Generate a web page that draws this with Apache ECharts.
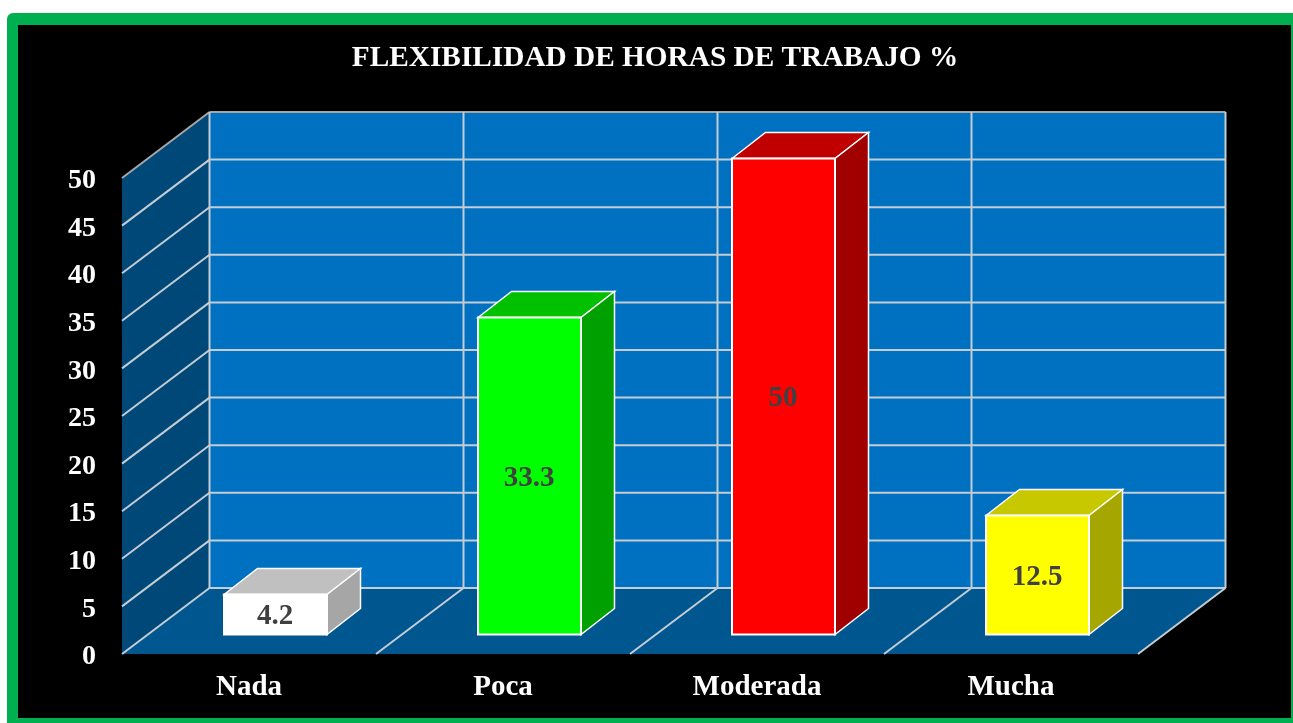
<!DOCTYPE html>
<html>
<head>
<meta charset="utf-8">
<style>html,body{margin:0;padding:0;background:#fff}#c{width:1293px;height:723px}</style>
<script src="https://cdn.jsdelivr.net/npm/echarts@6/dist/echarts.min.js"></script>
</head>
<body>
<div id="c"></div>
<script>
var titleText = 'FLEXIBILIDAD DE HORAS DE TRABAJO %';
var categories = ['Nada', 'Poca', 'Moderada', 'Mucha'];
var values = [4.2, 33.3, 50, 12.5];
var valueLabels = ['4.2', '33.3', '50', '12.5'];
var yTicks = [0, 5, 10, 15, 20, 25, 30, 35, 40, 45, 50];
var frontColors = ['#FFFFFF', '#00FF00', '#FF0000', '#FFFF00'];
var topColors = ['#C0C0C0', '#00C000', '#C00000', '#C8C800'];
var sideColors = ['#A6A6A6', '#00A000', '#A00000', '#A6A600'];

var SERIF = '"Liberation Serif","Times New Roman",serif';
var WALL_DX = 87.5, WALL_DY = -66;
var BAR_DX = 33.5, BAR_DY = -26;
var BAR_OFF_X = 26.5, BAR_OFF_Y = -19.5;
var BAR_W = 103;
var LINE = '#C4CCD4';

function poly(pts, fill, stroke, lw) {
  return {
    type: 'polygon',
    shape: { points: pts },
    style: { fill: fill, stroke: stroke || null, lineWidth: lw || 0 }
  };
}
function seg(x1, y1, x2, y2, color, lw) {
  return {
    type: 'line',
    shape: { x1: x1, y1: y1, x2: x2, y2: y2 },
    style: { stroke: color || LINE, lineWidth: lw || 2 }
  };
}

function renderWalls(params, api) {
  var cs = params.coordSys;
  var left = cs.x, right = cs.x + cs.width;
  var y0 = api.coord([0, 0])[1], yTop = api.coord([0, yTicks[yTicks.length - 1]])[1];
  var bx0 = left + WALL_DX, bx1 = right + WALL_DX;
  var kids = [
    poly([[bx0, yTop + WALL_DY], [bx1, yTop + WALL_DY], [bx1, y0 + WALL_DY], [bx0, y0 + WALL_DY]], '#0070C0'),
    poly([[left, yTop], [bx0, yTop + WALL_DY], [bx0, y0 + WALL_DY], [left, y0]], '#004878'),
    poly([[left, y0], [bx0, y0 + WALL_DY], [bx1, y0 + WALL_DY], [right, y0]], '#00568F')
  ];
  yTicks.forEach(function (t) {
    var y = api.coord([0, t])[1];
    var c = t === yTicks[yTicks.length - 1] ? '#A6A6A6' : LINE;
    kids.push(seg(left, y, bx0, y + WALL_DY, c));
    kids.push(seg(bx0, y + WALL_DY, bx1, y + WALL_DY, c));
  });
  kids.push(seg(bx0, yTop + WALL_DY, bx0, y0 + WALL_DY));
  var band = cs.width / categories.length;
  categories.forEach(function (c, i) {
    var x = left + band * (i + 1);
    kids.push(seg(x + WALL_DX, yTop + WALL_DY, x + WALL_DX, y0 + WALL_DY));
    kids.push(seg(x, y0, x + WALL_DX, y0 + WALL_DY));
  });
  return { type: 'group', children: kids };
}

function renderBar(params, api) {
  var i = api.value(0), v = api.value(1);
  var p = api.coord([i, v]), b = api.coord([i, 0]);
  var xL = p[0] - BAR_W / 2 + BAR_OFF_X, xR = xL + BAR_W;
  var yT = p[1] + BAR_OFF_Y, yB = b[1] + BAR_OFF_Y;
  var cx = (xL + xR) / 2, cy = (yT + yB) / 2;
  return {
    type: 'group',
    children: [
      poly([[xL, yT], [xL + BAR_DX, yT + BAR_DY], [xR + BAR_DX, yT + BAR_DY], [xR, yT]], topColors[i], '#FFFFFF', 1.5),
      poly([[xR, yT], [xR + BAR_DX, yT + BAR_DY], [xR + BAR_DX, yB + BAR_DY], [xR, yB]], sideColors[i], '#FFFFFF', 1.5),
      poly([[xL, yT], [xR, yT], [xR, yB], [xL, yB]], frontColors[i], '#FFFFFF', 2),
      {
        type: 'text',
        style: {
          x: cx - 0.5, y: cy + 2.5,
          text: valueLabels[i],
          fill: '#404040',
          font: 'bold 29px ' + SERIF,
          align: 'center',
          verticalAlign: 'middle'
        }
      }
    ]
  };
}

var chart = echarts.init(document.getElementById('c'), null, { renderer: 'canvas' });
chart.setOption({
  animation: false,
  backgroundColor: '#FFFFFF',
  graphic: [{
    type: 'rect',
    z: -10,
    silent: true,
    shape: { x: 7, y: 13, width: 1300, height: 720, r: 6 },
    style: { fill: '#00B050' }
  }, {
    type: 'rect',
    z: -9,
    silent: true,
    shape: { x: 18, y: 25, width: 1273, height: 693 },
    style: { fill: '#000000' }
  }],
  title: {
    text: titleText,
    left: 650,
    top: 39,
    textAlign: 'center',
    textStyle: { color: '#FFFFFF', fontFamily: SERIF, fontWeight: 'bold', fontSize: 29.3 }
  },
  grid: { left: 122, top: 178, width: 1016, height: 476, containLabel: false },
  xAxis: {
    type: 'category',
    data: categories,
    axisLine: { show: false },
    axisTick: { show: false },
    splitLine: { show: false },
    axisLabel: { color: '#FFFFFF', fontFamily: SERIF, fontWeight: 'bold', fontSize: 29, margin: 19 }
  },
  yAxis: {
    type: 'value',
    min: 0,
    max: 50,
    interval: 5,
    axisLine: { show: false },
    axisTick: { show: false },
    splitLine: { show: false },
    axisLabel: { color: '#FFFFFF', fontFamily: SERIF, fontWeight: 'bold', fontSize: 28, margin: 26, verticalAlign: 'top', lineHeight: 6 }
  },
  series: [{
    type: 'custom',
    name: 'walls',
    clip: false,
    silent: true,
    z: 1,
    data: [[0, 0]],
    renderItem: renderWalls
  }, {
    type: 'custom',
    name: 'FLEXIBILIDAD',
    clip: false,
    z: 2,
    encode: { x: 0, y: 1 },
    data: values.map(function (v, i) { return [i, v]; }),
    renderItem: renderBar
  }]
});
</script>
</body>
</html>
